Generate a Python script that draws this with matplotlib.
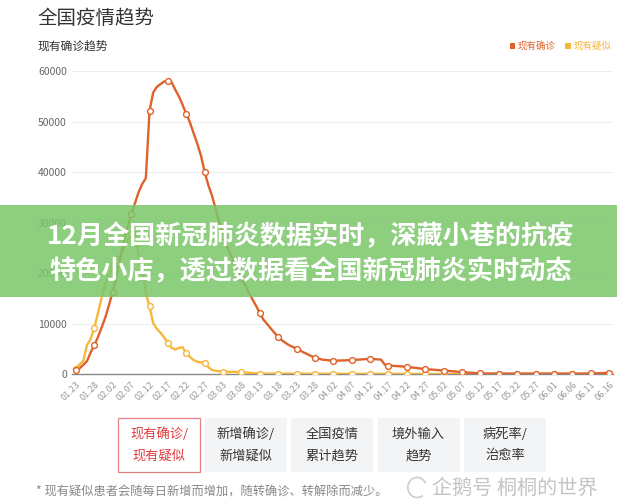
import matplotlib.pyplot as plt
import numpy as np
import pandas as pd
from matplotlib.patches import Rectangle, Arc

plt.rcParams['font.family'] = ['Noto Sans CJK SC', 'DejaVu Sans']

# 现有确诊 (daily to 03.28, then sparser)
conf_dates = [
    "01.23", "01.24", "01.25", "01.26", "01.27", "01.28", "01.29", "01.30", "01.31",
    "02.01", "02.02", "02.03", "02.04", "02.05", "02.06", "02.07", "02.08", "02.09",
    "02.10", "02.11", "02.12", "02.13", "02.14", "02.15", "02.16", "02.17", "02.18",
    "02.19", "02.20", "02.21", "02.22", "02.23", "02.24", "02.25", "02.26", "02.27",
    "02.28", "02.29", "03.01", "03.02", "03.03", "03.04", "03.05", "03.06", "03.07",
    "03.08", "03.09", "03.10", "03.11", "03.12", "03.13", "03.14", "03.15", "03.16",
    "03.17", "03.18", "03.19", "03.20", "03.21", "03.22", "03.23", "03.24", "03.25",
    "03.26", "03.27", "03.28", "03.30", "04.02", "04.07", "04.12", "04.15", "04.16",
    "04.17", "04.22", "04.27", "05.02", "05.07", "05.12", "05.17", "05.22", "05.27",
    "06.01", "06.06", "06.11", "06.16",
]
conf_vals = [
    771, 1208, 1870, 2613, 4349, 5739, 7417, 9308, 11289,
    13748, 16369, 19381, 22942, 26302, 28985, 31774, 33738, 35982,
    37626, 38800, 52100, 55748, 56873, 57416, 57934, 58100, 57805,
    56303, 54965, 53284, 51500, 49824, 47672, 45604, 43258, 40000,
    37414, 35329, 32652, 30004, 27433, 25352, 23784, 22177, 20533,
    19016, 17721, 16145, 14831, 13526, 12100, 10800, 9950, 9050,
    8200, 7400, 6750, 6200, 5750, 5400, 5100, 4700, 4300,
    3950, 3600, 3300, 2900, 2670, 2810, 3060, 2900, 1900,
    1740, 1480, 1030, 750, 430, 170, 150, 150, 150,
    150, 150, 160, 300,
]

# 现有疑似
susp_dates = [
    "01.23", "01.24", "01.25", "01.26", "01.27", "01.28", "01.29", "01.30", "01.31",
    "02.01", "02.02", "02.03", "02.04", "02.05", "02.06", "02.07", "02.08", "02.09",
    "02.10", "02.11", "02.12", "02.13", "02.14", "02.15", "02.16", "02.17", "02.18",
    "02.19", "02.20", "02.21", "02.22", "02.23", "02.24", "02.25", "02.26", "02.27",
    "02.28", "02.29", "03.01", "03.02", "03.03", "03.04", "03.05", "03.06", "03.07",
    "03.08", "03.13", "03.18", "03.23", "03.28", "04.02", "04.07", "04.12", "04.17",
    "04.22", "04.27", "05.02", "05.07", "05.12", "05.17", "05.22", "05.27", "06.01",
    "06.06", "06.11", "06.16",
]
susp_vals = [
    1072, 1965, 2684, 5794, 6973, 9239, 12167, 15238, 17988,
    19544, 21558, 23214, 23260, 24702, 26359, 27657, 28942, 23589,
    21675, 16067, 13435, 10109, 8969, 8228, 7264, 6242, 5248,
    4922, 5206, 5365, 4148, 3434, 2824, 2491, 2358, 2308,
    1418, 851, 715, 587, 520, 522, 482, 502, 458,
    421, 130, 120, 120, 110, 100, 100, 90, 90,
    80, 70, 60, 40, 10, 10, 10, 10, 10,
    10, 10, 10,
]

tick_labels = [
    "01.23", "01.28", "02.02", "02.07", "02.12", "02.17", "02.22", "02.27", "03.03",
    "03.08", "03.13", "03.18", "03.23", "03.28", "04.02", "04.07", "04.12", "04.17",
    "04.22", "04.27", "05.02", "05.07", "05.12", "05.17", "05.22", "05.27", "06.01",
    "06.06", "06.11", "06.16",
]
y_ticks = [0, 10000, 20000, 30000, 40000, 50000, 60000]

buttons = [("现有确诊/", "现有疑似"), ("新增确诊/", "新增疑似"), ("全国疫情", "累计趋势"),
           ("境外输入", "趋势"), ("病死率/", "治愈率")]

start = pd.Timestamp("2020-01-23")


def to_day(labels):
    d = pd.to_datetime(["2020." + s for s in labels], format="%Y.%m.%d")
    return np.asarray((d - start).days)


c_orange = "#e0622a"
c_yellow = "#f6b73a"

fig = plt.figure(figsize=(6.17, 5.01), dpi=100)
ax = fig.add_axes([0.1172, 0.2529, 0.8759, 0.6054])

for dates, vals, col, z in [(susp_dates, susp_vals, c_yellow, 3), (conf_dates, conf_vals, c_orange, 4)]:
    x = to_day(dates)
    mask = np.isin(dates, tick_labels)
    ax.plot(x, vals, color=col, lw=1.7, zorder=z, solid_joinstyle="round")
    ax.plot(x[mask], np.array(vals)[mask], ls="none", marker="o", ms=4.2,
            mfc="white", mec=col, mew=1.0, zorder=z + 2)

ax.set_xlim(-1, 146)
ax.set_ylim(0, 60000)
ax.set_yticks(y_ticks)
ax.set_yticklabels([str(v) for v in y_ticks], color="#666666", fontsize=7.5)
ax.set_xticks(to_day(tick_labels))
ax.set_xticklabels(tick_labels, rotation=45, ha="right", va="top",
                   rotation_mode="anchor", color="#999999", fontsize=6.5)
ax.tick_params(axis="both", length=0, pad=4)
ax.grid(axis="y", color="#eeeeee", lw=0.8)
ax.set_axisbelow(True)
for s in ["top", "right", "left"]:
    ax.spines[s].set_visible(False)
ax.spines["bottom"].set_color("#888888")
ax.spines["bottom"].set_linewidth(1.0)

# header
fig.text(0.06, 0.963, "全国疫情趋势", fontsize=14, color="#333333", va="center")
fig.text(0.06, 0.908, "现有确诊趋势", fontsize=8.5, color="#333333", va="center")
fig.add_artist(Rectangle((0.826, 0.903), 0.009, 0.011, transform=fig.transFigure,
                         color=c_orange, lw=0))
fig.text(0.839, 0.908, "现有确诊", fontsize=6.8, color=c_orange, va="center")
fig.add_artist(Rectangle((0.916, 0.903), 0.009, 0.011, transform=fig.transFigure,
                         color=c_yellow, lw=0))
fig.text(0.929, 0.908, "现有疑似", fontsize=6.8, color=c_yellow, va="center")

# green banner over the chart
fig.add_artist(Rectangle((0, 0.4072), 1, 0.1836, transform=fig.transFigure,
                         color="#7cc66a", alpha=0.86, lw=0, zorder=10))
fig.text(0.503, 0.527, "12月全国新冠肺炎数据实时，深藏小巷的抗疫", fontsize=18.8,
         color="white", weight="bold", ha="center", va="center", zorder=11)
fig.text(0.503, 0.457, "特色小店，透过数据看全国新冠肺炎实时动态", fontsize=18.8,
         color="white", weight="bold", ha="center", va="center", zorder=11)

# buttons
bx = 118
for i, (l1, l2) in enumerate(buttons):
    x0 = (bx + i * 86.5) / 617
    w = 82 / 617
    y0 = (501 - 472) / 501
    h = 54 / 501
    if i == 0:
        fig.add_artist(Rectangle((x0, y0), w, h, transform=fig.transFigure,
                                 facecolor="white", edgecolor="#e58080", lw=0.9))
        tc = "#e0393b"
    else:
        fig.add_artist(Rectangle((x0, y0), w, h, transform=fig.transFigure,
                                 facecolor="#f3f4f6", edgecolor="none"))
        tc = "#333333"
    fig.text(x0 + w / 2, y0 + h * 0.70, l1, fontsize=9.5, color=tc, ha="center", va="center")
    fig.text(x0 + w / 2, y0 + h * 0.30, l2, fontsize=9.5, color=tc, ha="center", va="center")

fig.text(0.058, 0.017, "* 现有疑似患者会随每日新增而增加，随转确诊、转解除而减少。",
         fontsize=8.8, color="#888888", va="center")
# watermark with a simple penguin-like outline
fig.add_artist(Arc((0.676, 0.027), 0.03, 0.04, theta1=30, theta2=300,
                   transform=fig.transFigure, color="#cccccc", lw=1.2))
fig.text(0.700, 0.026, "企鹅号 桐桐的世界", fontsize=14.5, color="#c4c4c4", va="center")

fig.savefig("out.png", dpi=100)
